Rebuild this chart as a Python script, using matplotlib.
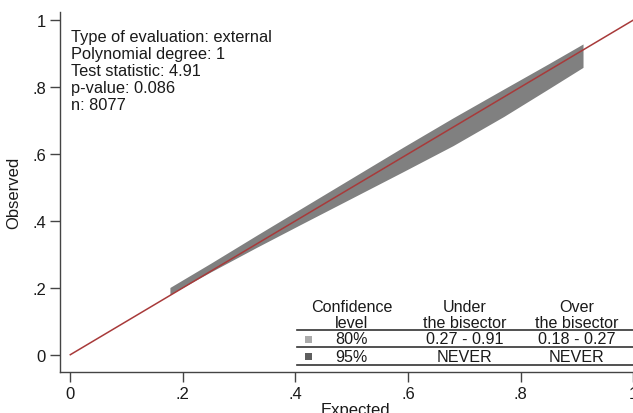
import matplotlib
matplotlib.use("Agg")
import matplotlib.pyplot as plt
from matplotlib.lines import Line2D
from matplotlib.patches import Rectangle

plt.rcParams['font.family'] = ['Liberation Sans', 'DejaVu Sans']

# ---- data ----
band_x = [0.177, 0.25, 0.33, 0.41, 0.50, 0.59, 0.68, 0.77, 0.85, 0.911]
band_upper = [0.201, 0.274, 0.356, 0.437, 0.528, 0.619, 0.708, 0.794, 0.870, 0.929]
band_lower = [0.180, 0.248, 0.320, 0.390, 0.468, 0.546, 0.625, 0.712, 0.795, 0.859]
bisector_x = [0, 1]
bisector_y = [0, 1]
xticks = [0, 0.2, 0.4, 0.6, 0.8, 1]
xtick_labels = ["0", ".2", ".4", ".6", ".8", "1"]
yticks = [0, 0.2, 0.4, 0.6, 0.8, 1]
ytick_labels = ["0", ".2", ".4", ".6", ".8", "1"]
info_lines = ["Type of evaluation: external", "Polynomial degree: 1",
              "Test statistic: 4.91", "p-value: 0.086", "n: 8077"]
table_header = [["Confidence", "level"], ["Under", "the bisector"], ["Over", "the bisector"]]
table_levels = ["80%", "95%"]
table_under = ["0.27 - 0.91", "NEVER"]
table_over = ["0.18 - 0.27", "NEVER"]
level_colors = ["#ababab", "#5e5e5e"]

W, H = 633, 414
fig = plt.figure(figsize=(W / 100, H / 100), dpi=100)

def fx(px):
    return px / W

def fy(py):
    return 1 - py / H

TXT = "#1a1a1a"
# axes placement (pixels)
ax_left, ax_right, ax_top, ax_bottom = 60, 650, 13, 373
ax = fig.add_axes([fx(ax_left), fy(ax_bottom), (ax_right - ax_left) / W, (ax_bottom - ax_top) / H])
ax.set_xlim(-0.0183, 1.03)
ax.set_ylim(-0.0517, 1.0245)

ax.fill_between(band_x, band_lower, band_upper, color="#808080", linewidth=0, zorder=2)
ax.plot(bisector_x, bisector_y, color="#a83a3a", lw=1.1, zorder=3)

for s in ["top", "right"]:
    ax.spines[s].set_visible(False)
for s in ["left", "bottom"]:
    ax.spines[s].set_color("#444444")
    ax.spines[s].set_linewidth(1.0)

ax.set_xticks(xticks)
ax.set_xticklabels(xtick_labels)
ax.set_yticks(yticks)
ax.set_yticklabels(ytick_labels)
ax.tick_params(axis="both", direction="out", length=7, width=1, color="#444444",
               labelsize=12, labelcolor=TXT, pad=3)
ax.set_xlabel("Expected", fontsize=12, color=TXT, labelpad=1)
ax.set_ylabel("Observed", fontsize=12, color=TXT, labelpad=8)

# info text
for i, line in enumerate(info_lines):
    fig.text(fx(71), fy(37.7 + i * 17), line, fontsize=11.8, color=TXT,
             ha="left", va="center")

# table
FS = 11.6
col_x = [351.7, 465, 576.7]
for cx, (l1, l2) in zip(col_x, table_header):
    fig.text(fx(cx), fy(308), l1, fontsize=FS, ha="center", va="center", color=TXT)
    fig.text(fx(cx), fy(323), l2, fontsize=FS, ha="center", va="center", color=TXT)

for ly in [330.7, 348.3, 366]:
    fig.add_artist(Line2D([fx(296.7), fx(640)], [fy(ly), fy(ly)], transform=fig.transFigure,
                          color="#333333", lw=1.2))

row_y = [340, 357.5]
for ry, lvl, un, ov, col in zip(row_y, table_levels, table_under, table_over, level_colors):
    fig.add_artist(Rectangle((fx(304.5), fy(ry + 3.5)), 7 / W, 7 / H, transform=fig.transFigure,
                             facecolor=col, edgecolor="none"))
    fig.text(fx(col_x[0]), fy(ry), lvl, fontsize=FS, ha="center", va="center", color=TXT)
    fig.text(fx(col_x[1]), fy(ry), un, fontsize=FS, ha="center", va="center", color=TXT)
    fig.text(fx(col_x[2]), fy(ry), ov, fontsize=FS, ha="center", va="center", color=TXT)

fig.savefig("out.png", dpi=100)
